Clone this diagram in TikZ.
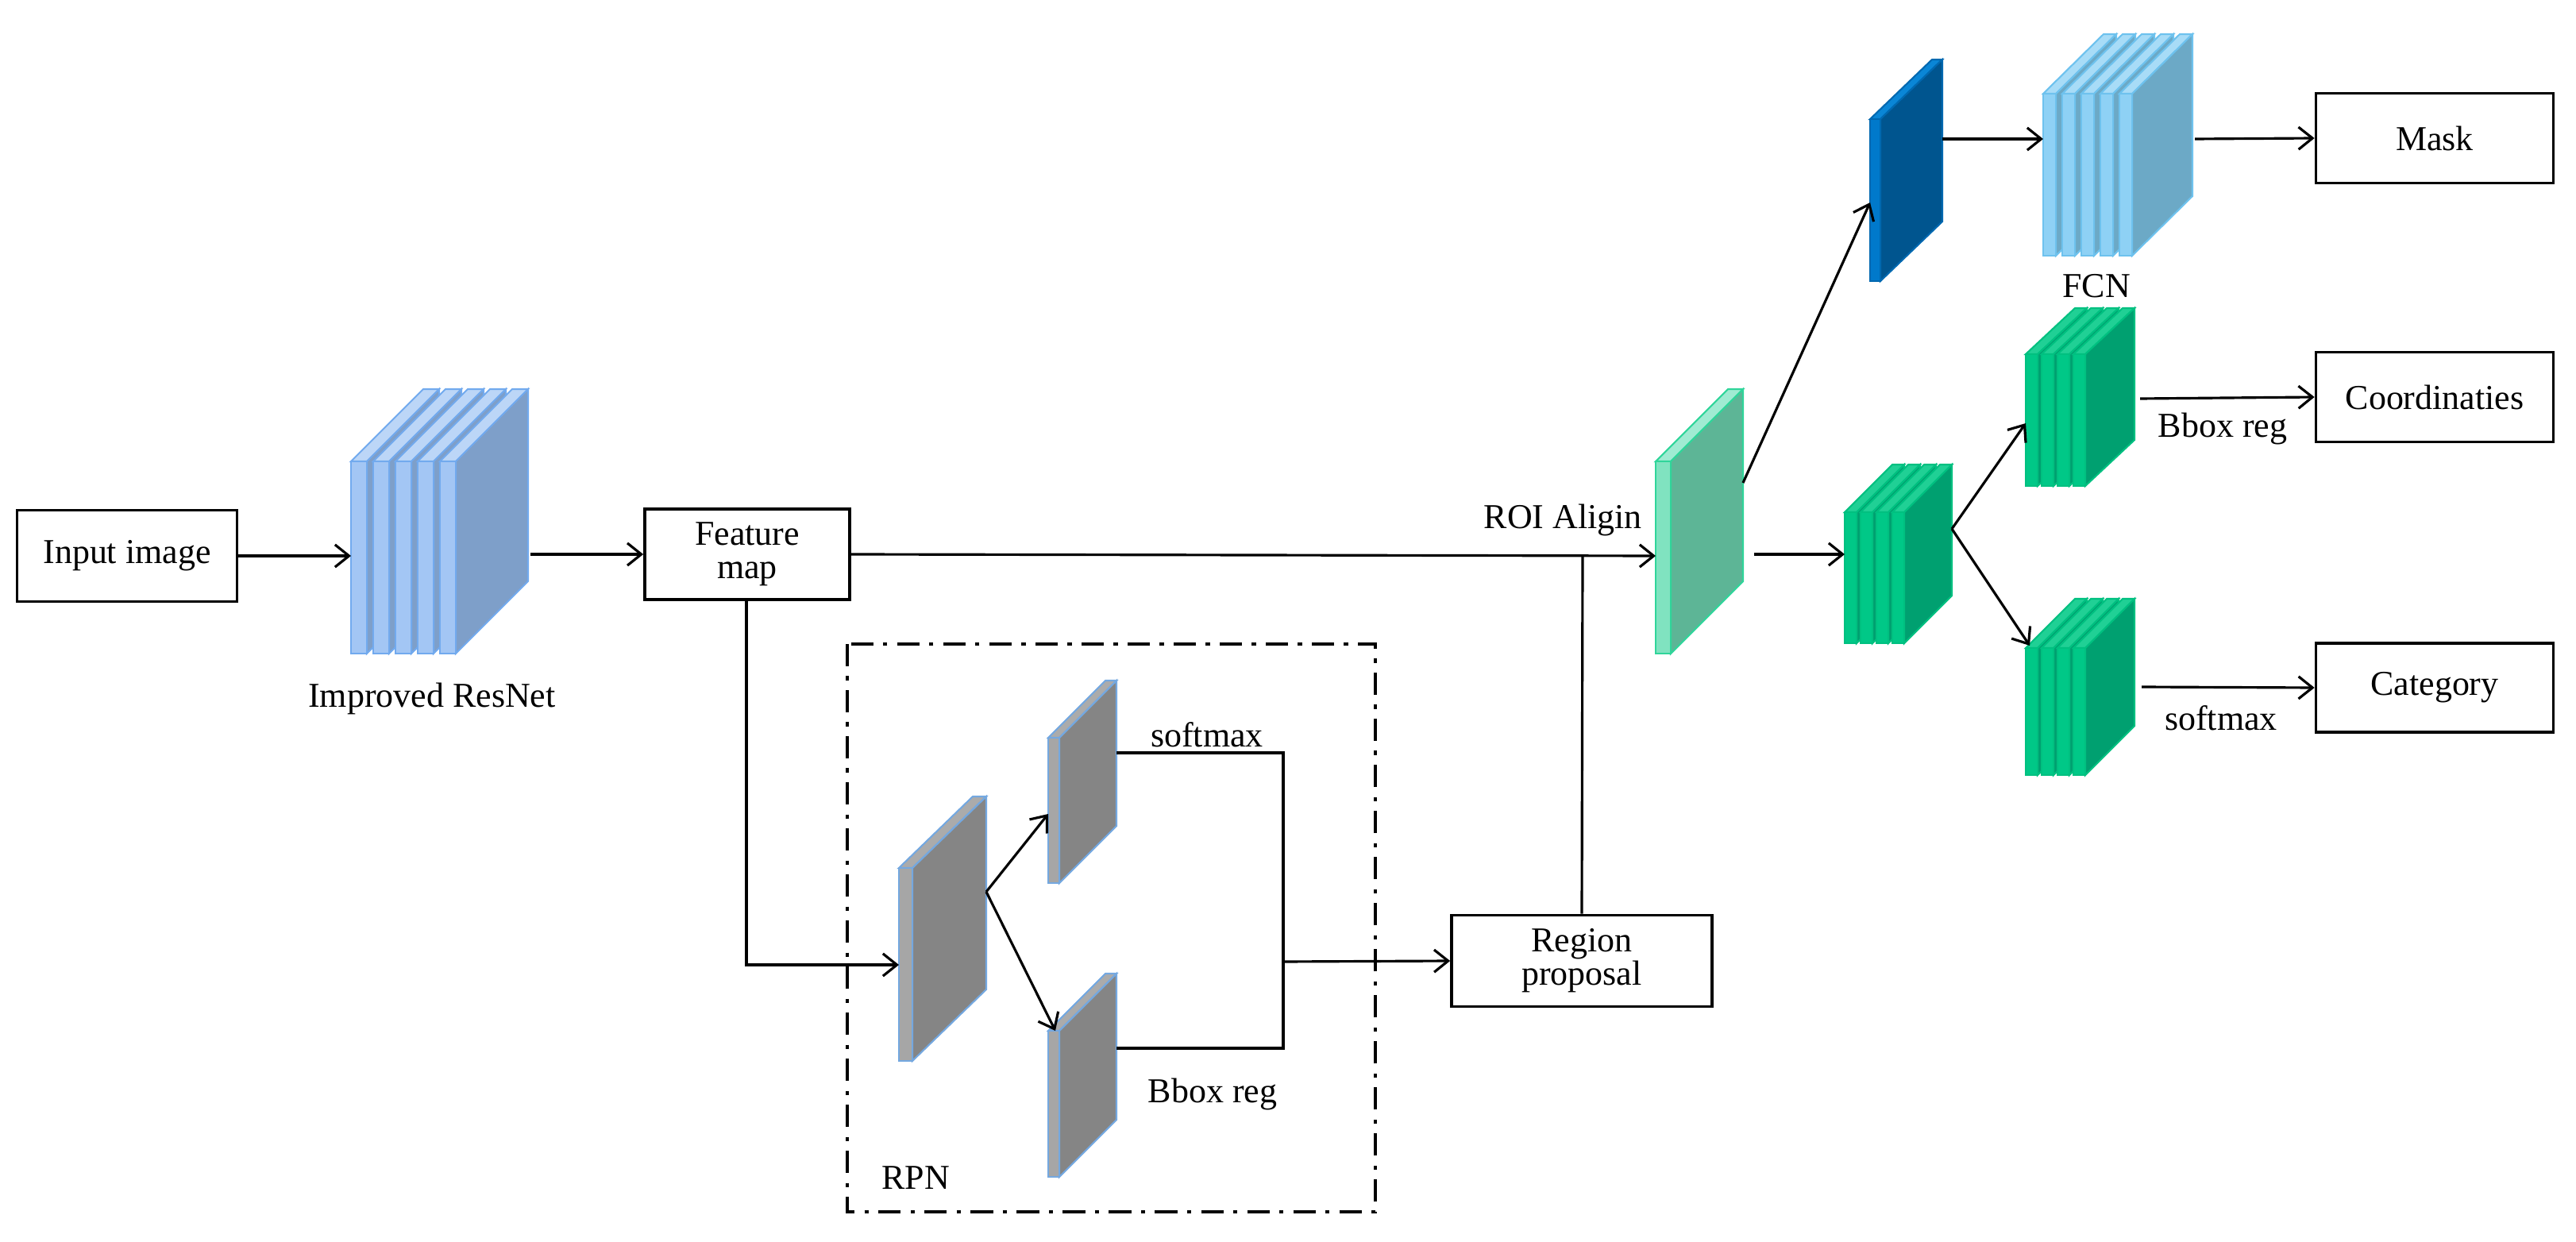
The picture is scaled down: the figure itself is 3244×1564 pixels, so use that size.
\documentclass[tikz,border=0pt]{standalone}
\usepackage{fontspec}
\setmainfont{Liberation Serif}
\usetikzlibrary{arrows.meta}
\definecolor{sf}{HTML}{A6C8F5}
\begin{document}
\begin{tikzpicture}[x=0.01cm,y=-0.01cm,
  box/.style={draw,line width=1pt,fill=white,font=\fontsize{12.5}{14}\selectfont,align=center,inner sep=0pt},
  lbl/.style={font=\fontsize{12.5}{14}\selectfont,inner sep=1pt},
  arr/.style={line width=0.9pt,-{Straight Barb[length=5pt,width=8pt]}},
  ln/.style={line width=0.9pt}]
\useasboundingbox (0,0) rectangle (3244,1564);
% slab: #1 x, #2 ytop, #3 w, #4 h, #5 dx, #6 dy
\newcommand\myslab[6]{%
  \filldraw[fill=st,draw=sb,line width=0.6pt] (#1,#2) -- ++(#5,-#6) -- ++(#3,0) -- (#1+#3,#2) -- cycle;
  \filldraw[fill=ss,draw=sb,line width=0.6pt] (#1+#3,#2) -- ++(#5,-#6) -- ++(0,#4) -- (#1+#3,#2+#4) -- cycle;
  \filldraw[fill=sf,draw=sb,line width=0.6pt] (#1,#2) rectangle (#1+#3,#2+#4);}
\newcommand\mystack[8]{% n, x, ytop, w, pitch, h, dx, dy
  \foreach \i [evaluate=\i as \xx using #2+\i*#5-#5] in {1,...,#1}{\myslab{\xx}{#3}{#4}{#6}{#7}{#8}}}
% ResNet
\definecolor{sf}{HTML}{A3C6F4}\definecolor{st}{HTML}{BCD6F7}\definecolor{ss}{HTML}{7E9FC9}\definecolor{sb}{HTML}{72AAEE}
\mystack{5}{442}{581}{20}{28}{242}{91}{91}
% grey RPN
\definecolor{sf}{HTML}{A6A6A6}\definecolor{st}{HTML}{ABABAB}\definecolor{ss}{HTML}{858585}\definecolor{sb}{HTML}{74A8E0}
\myslab{1132}{1093}{17}{243}{93}{90}
\myslab{1320}{929}{14}{183}{72}{72}
\myslab{1320}{1298}{14}{184}{72}{72}
% ROI
\definecolor{sf}{HTML}{80E3C0}\definecolor{st}{HTML}{A0EBD2}\definecolor{ss}{HTML}{5DB596}\definecolor{sb}{HTML}{30D59A}
\myslab{2085}{581}{19}{242}{91}{91}
% blue
\definecolor{sf}{HTML}{0079CB}\definecolor{st}{HTML}{0A86D6}\definecolor{ss}{HTML}{00558F}\definecolor{sb}{HTML}{0068B0}
\myslab{2355}{150}{13}{204}{78}{75}
% FCN
\definecolor{sf}{HTML}{8ED1F5}\definecolor{st}{HTML}{A8DCF7}\definecolor{ss}{HTML}{6CA9C6}\definecolor{sb}{HTML}{6EC2EE}
\mystack{5}{2573}{118}{16}{24}{204}{76}{75}
% green
\definecolor{sf}{HTML}{00C887}\definecolor{st}{HTML}{20D095}\definecolor{ss}{HTML}{00A070}\definecolor{sb}{HTML}{00C080}
\mystack{4}{2323}{645}{15}{20}{165}{60}{60}
\mystack{4}{2551}{446}{15}{20}{166}{62}{58}
\mystack{4}{2551}{816}{15}{20}{160}{62}{62}

% RPN dash-dot box
\draw[line width=1.3pt,dash pattern=on 8pt off 3.5pt on 1.5pt off 3.5pt] (1067,811) rectangle (1732,1526);

% boxes
\node[box,minimum width=2.77cm,minimum height=1.15cm] (in) at (160,700) {Input image};
\node[box,minimum width=2.58cm,minimum height=1.14cm] (fm) at (941,698) {Feature\\[-2pt]map};
\node[box,minimum width=3.28cm,minimum height=1.15cm] (rp) at (1992,1210) {Region\\[-2pt]proposal};
\node[box,minimum width=2.99cm,minimum height=1.13cm] (mask) at (3066,174) {Mask};
\node[box,minimum width=2.99cm,minimum height=1.13cm] (coord) at (3066,500) {Coordinaties};
\node[box,minimum width=2.99cm,minimum height=1.12cm] (cat) at (3066,866) {Category};

% labels
\node[lbl] (l1) at (544,880) {Improved ResNet};
\node[lbl,anchor=east] (l2) at (2072,655) {ROI Aligin};
\node[lbl] (l3) at (1520,925) {softmax};
\node[lbl] (l4) at (1527,1378) {Bbox reg};
\node[lbl] (l5) at (1153,1483) {RPN};
\node[lbl] (l6) at (2640,360) {FCN};
\node[lbl] (l7) at (2799,540) {Bbox reg};
\node[lbl] (l8) at (2797,904) {softmax};

% coordinates on slabs
\coordinate (resin) at (442,700);
\coordinate (resout) at (668,698);
\coordinate (roiin) at (2085,700);
\coordinate (roiout) at (2195,608);
\coordinate (roiout2) at (2209,698);
\coordinate (bigin) at (1132,1215);
\coordinate (bigout) at (1242,1123);
\coordinate (upin) at (1320,1025);
\coordinate (lowin) at (1329,1298);
\coordinate (upout) at (1406,948);
\coordinate (lowout) at (1406,1320);
\coordinate (jx) at (1616,1211);
\coordinate (fmdown) at (940,1215);
\coordinate (rpup) at (1993,700);
\coordinate (bluein) at (2355,255);
\coordinate (blueout) at (2446,175);
\coordinate (fcnin) at (2573,175);
\coordinate (fcnout) at (2764,175);
\coordinate (g1in) at (2323,698);
\coordinate (g1out) at (2458,666);
\coordinate (g2in) at (2551,533);
\coordinate (g3in) at (2556,813);
\coordinate (g2out) at (2695,502);
\coordinate (g3out) at (2697,865);

% connectors
\draw[arr] (in.east) -- (resin);
\draw[arr] (resout) -- (fm.west);
\draw[arr] (fm.east) -- (roiin);
\draw[ln] (rp.north) -- (rpup);
\draw[arr] (fm.south -| fmdown) -- (fmdown) -- (bigin);
\draw[arr] (bigout) -- (upin);
\draw[arr] (bigout) -- (lowin);
\draw[ln] (upout) -- (upout -| jx) -- (lowout -| jx) -- (lowout);
\draw[arr] (jx) -- (rp.west);
\draw[arr] (roiout) -- (bluein);
\draw[arr] (blueout) -- (fcnin);
\draw[arr] (fcnout) -- (mask.west);
\draw[arr] (roiout2) -- (g1in);
\draw[arr] (g1out) -- (g2in);
\draw[arr] (g1out) -- (g3in);
\draw[arr] (g2out) -- (coord.west);
\draw[arr] (g3out) -- (cat.west);
\end{tikzpicture}
\end{document}
